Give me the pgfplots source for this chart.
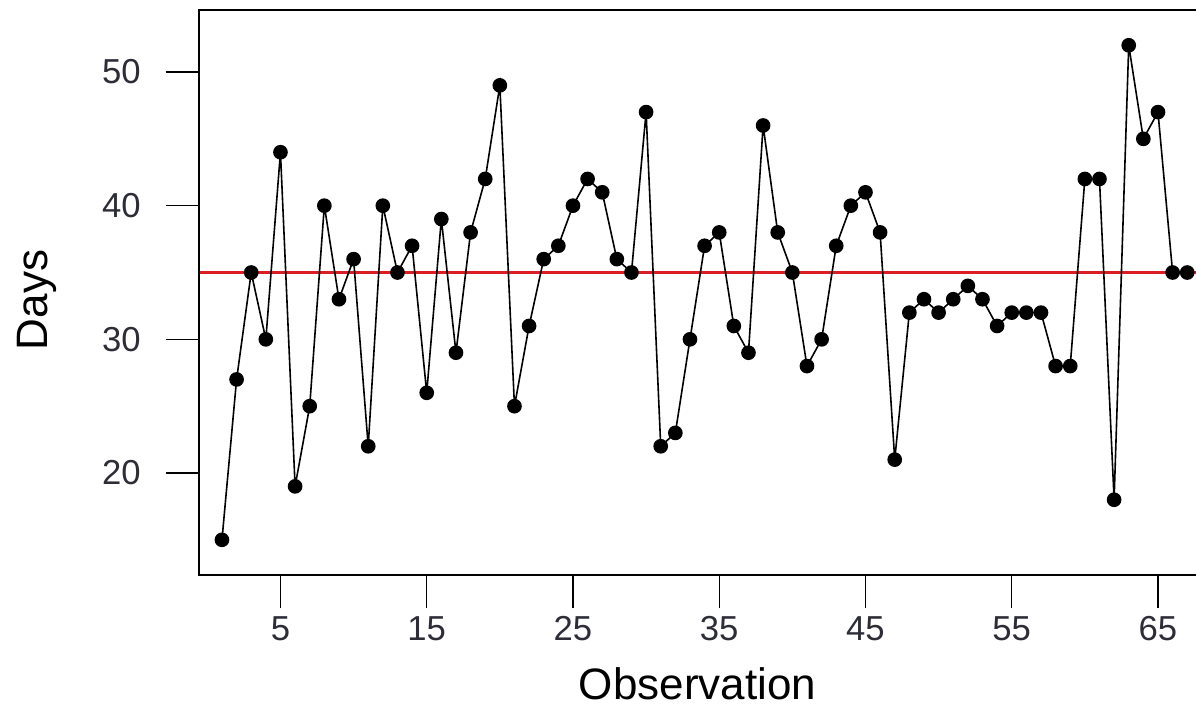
\documentclass[border=0pt]{standalone}
\usepackage{fontspec}
\setmainfont{Liberation Sans}
\usepackage{pgfplots}
\pgfplotsset{compat=1.18}
\usetikzlibrary{calc}

\definecolor{ticktext}{RGB}{45,45,55}
\definecolor{meanred}{RGB}{220,30,35}

\pgfplotstableread{
obs days
1 15
2 27
3 35
4 30
5 44
6 19
7 25
8 40
9 33
10 36
11 22
12 40
13 35
14 37
15 26
16 39
17 29
18 38
19 42
20 49
21 25
22 31
23 36
24 37
25 40
26 42
27 41
28 36
29 35
30 47
31 22
32 23
33 30
34 37
35 38
36 31
37 29
38 46
39 38
40 35
41 28
42 30
43 37
44 40
45 41
46 38
47 21
48 32
49 33
50 32
51 33
52 34
53 33
54 31
55 32
56 32
57 32
58 28
59 28
60 42
61 42
62 18
63 52
64 45
65 47
66 35
67 35
}\datatable

\begin{document}
\begin{tikzpicture}
  \begin{axis}[
    scale only axis,
    width=747.75pt,
    height=423.75pt,
    xmin=-0.57, xmax=67.6,
    ymin=12.37, ymax=54.64,
    xtick={5,15,...,65},
    ytick={20,30,40,50},
    tick align=outside,
    xtick pos=bottom,
    ytick pos=left,
    major tick length=25pt,
    every tick/.style={black, line width=1pt},
    axis line style={draw=none},
    /pgf/number format/assume math mode=true,
    tick label style={font=\fontsize{26}{30}\selectfont, text=ticktext},
    xticklabel style={anchor=base, inner sep=0pt, yshift=-23.75pt},
    yticklabel style={anchor=east, inner sep=0pt, xshift=-18.5pt},
    xlabel={Observation},
    ylabel={Days},
    label style={font=\fontsize{33}{38}\selectfont},
    x label style={at={(axis description cs:0.5,0)}, anchor=base, yshift=-93.75pt},
    y label style={at={($(axis description cs:0,0.5)+(-113.25pt,-5.6pt)$)}, anchor=base},
  ]
    \coordinate (bl) at (rel axis cs:0,0);
    \coordinate (tr) at (rel axis cs:1,1);
    \addplot[meanred, line width=1.7pt] coordinates {(-0.57,35) (67.6,35)};
    \addplot[black, line width=1.2pt, mark=*, mark size=4.9pt,
      mark options={fill=black}] table[x=obs, y=days] {\datatable};
  \end{axis}
  \draw[black, line width=1.3pt] (tr) -- (tr -| bl) -- (bl) -- (bl -| tr);
  \pgfresetboundingbox
  \path ($(bl)+(-149.25pt,-100.5pt)$) rectangle ($(tr)+(0pt,7.5pt)$);
\end{tikzpicture}
\end{document}
